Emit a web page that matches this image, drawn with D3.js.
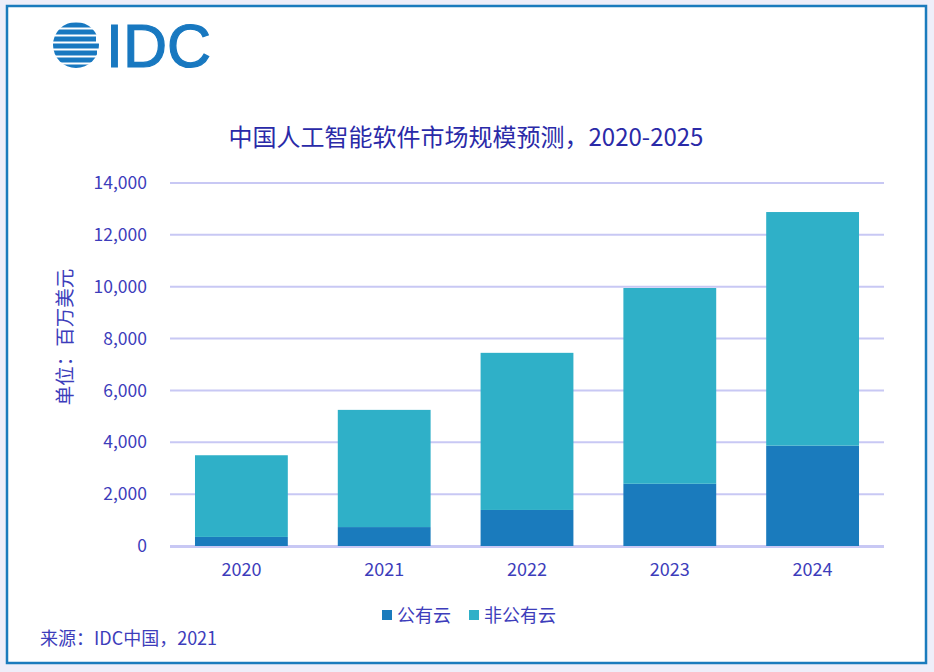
<!DOCTYPE html>
<html><head><meta charset="utf-8">
<script src="https://cdn.jsdelivr.net/npm/d3@7"></script>
<style>html,body{margin:0;padding:0;background:#eeeef9;}</style>
</head><body>
<svg id="c" width="934" height="672"></svg>
<script>
const years = ["2020","2021","2022","2023","2024"];
const publicCloud = [350, 730, 1390, 2400, 3870];
const totals = [3500, 5250, 7450, 9950, 12880];
const nonPublicCloud = [3150, 4520, 6060, 7550, 9010];
const yTicks = [0,2000,4000,6000,8000,10000,12000,14000];
const seriesNames = ["公有云","非公有云"];
const colors = ["#1a7bbd","#2fb0c8"];
const title = "中国人工智能软件市场规模预测，2020-2025";
const yLabel = "单位：百万美元";
const source = "来源：IDC中国，2021";

const svg = d3.select("#c");
const font = "'Noto Sans CJK SC','Noto Sans',sans-serif";
const textColor = "#3d3dbb";

// frame
svg.append("rect").attr("x",0).attr("y",0).attr("width",934).attr("height",672).attr("fill","#eeeef9");
svg.append("rect").attr("x",7).attr("y",6).attr("width",919).attr("height",657)
  .attr("fill","#fff").attr("stroke","#1a7bbd").attr("stroke-width",2.5);

// logo
const logo = svg.append("g");
const defs = svg.append("defs");
defs.append("clipPath").attr("id","globe").append("circle").attr("cx",76).attr("cy",45).attr("r",23);
const gl = logo.append("g").attr("clip-path","url(#globe)");
const stripes = [[22,5,0],[29,5,6],[36,5,-4],[43,5,4],[50,5,-3],[57,5,5],[64,5,0]];
stripes.forEach(s=>{
  gl.append("rect").attr("x",52+s[2]).attr("y",s[0]+0.5).attr("width",48).attr("height",s[1]).attr("fill","#1878c0");
  gl.append("rect").attr("x",40).attr("y",s[0]+0.5).attr("width",s[2]>0?12+s[2]:12).attr("height",s[1]).attr("fill","#1878c0");
});
logo.append("text").attr("x",106).attr("y",67).attr("font-family","'Liberation Sans',Arial,sans-serif")
  .attr("font-size",61).attr("fill","#1878c0").attr("stroke","#1878c0").attr("stroke-width",1.2).text("IDC");

// title
svg.append("text").attr("x",466).attr("y",146).attr("text-anchor","middle")
  .attr("font-family",font).attr("font-size",24).attr("fill","#2a2aa8").text(title);

const x = d3.scaleBand().domain(years).range([170,884]).paddingInner(0.35).paddingOuter(0.175);
const y = d3.scaleLinear().domain([0,14000]).range([546,183]);

// gridlines
svg.append("g").selectAll("line").data(yTicks).join("line")
  .attr("x1",170).attr("x2",884).attr("y1",d=>y(d)).attr("y2",d=>y(d))
  .attr("stroke","#c8c8f4").attr("stroke-width",2);

// y axis labels
const yAxis = svg.append("g").attr("transform","translate(170,0)")
  .call(d3.axisLeft(y).tickValues(yTicks).tickFormat(d3.format(",")).tickSize(0).tickPadding(23));
yAxis.select(".domain").remove();
yAxis.selectAll("text").attr("font-family",font).attr("font-size",17.5).attr("fill",textColor);

// bars
const stackData = years.map((yr,i)=>({year:yr, pub:publicCloud[i], non:nonPublicCloud[i]}));
const stack = d3.stack().keys(["pub","non"])(stackData);
svg.append("g").selectAll("g").data(stack).join("g").attr("fill",(d,i)=>colors[i])
  .selectAll("rect").data(d=>d).join("rect")
  .attr("x",d=>x(d.data.year)).attr("width",x.bandwidth())
  .attr("y",d=>y(d[1])).attr("height",d=>y(d[0])-y(d[1]));

// baseline
svg.append("line").attr("x1",170).attr("x2",884).attr("y1",y(0)+1).attr("y2",y(0)+1)
  .attr("stroke","#c8c8f4").attr("stroke-width",2);

// x axis
const xAxis = svg.append("g").attr("transform","translate(0,546)")
  .call(d3.axisBottom(x).tickSize(0).tickPadding(17));
xAxis.select(".domain").remove();
xAxis.selectAll("text").attr("font-family",font).attr("font-size",18).attr("fill",textColor);

// y label
svg.append("text").attr("transform","translate(72,337) rotate(-90)").attr("text-anchor","middle")
  .attr("font-family",font).attr("font-size",19.5).attr("fill",textColor).text(yLabel);

// legend
const leg = svg.append("g");
const legX = [382, 469];
seriesNames.forEach((n,i)=>{
  leg.append("rect").attr("x",legX[i]).attr("y",610).attr("width",10).attr("height",10).attr("fill",colors[i]);
  leg.append("text").attr("x",legX[i]+15).attr("y",622).attr("font-family",font).attr("font-size",18)
    .attr("fill",textColor).text(n);
});

// source
svg.append("text").attr("x",40).attr("y",645).attr("font-family",font).attr("font-size",18)
  .attr("fill",textColor).text(source);
</script>
</body></html>
